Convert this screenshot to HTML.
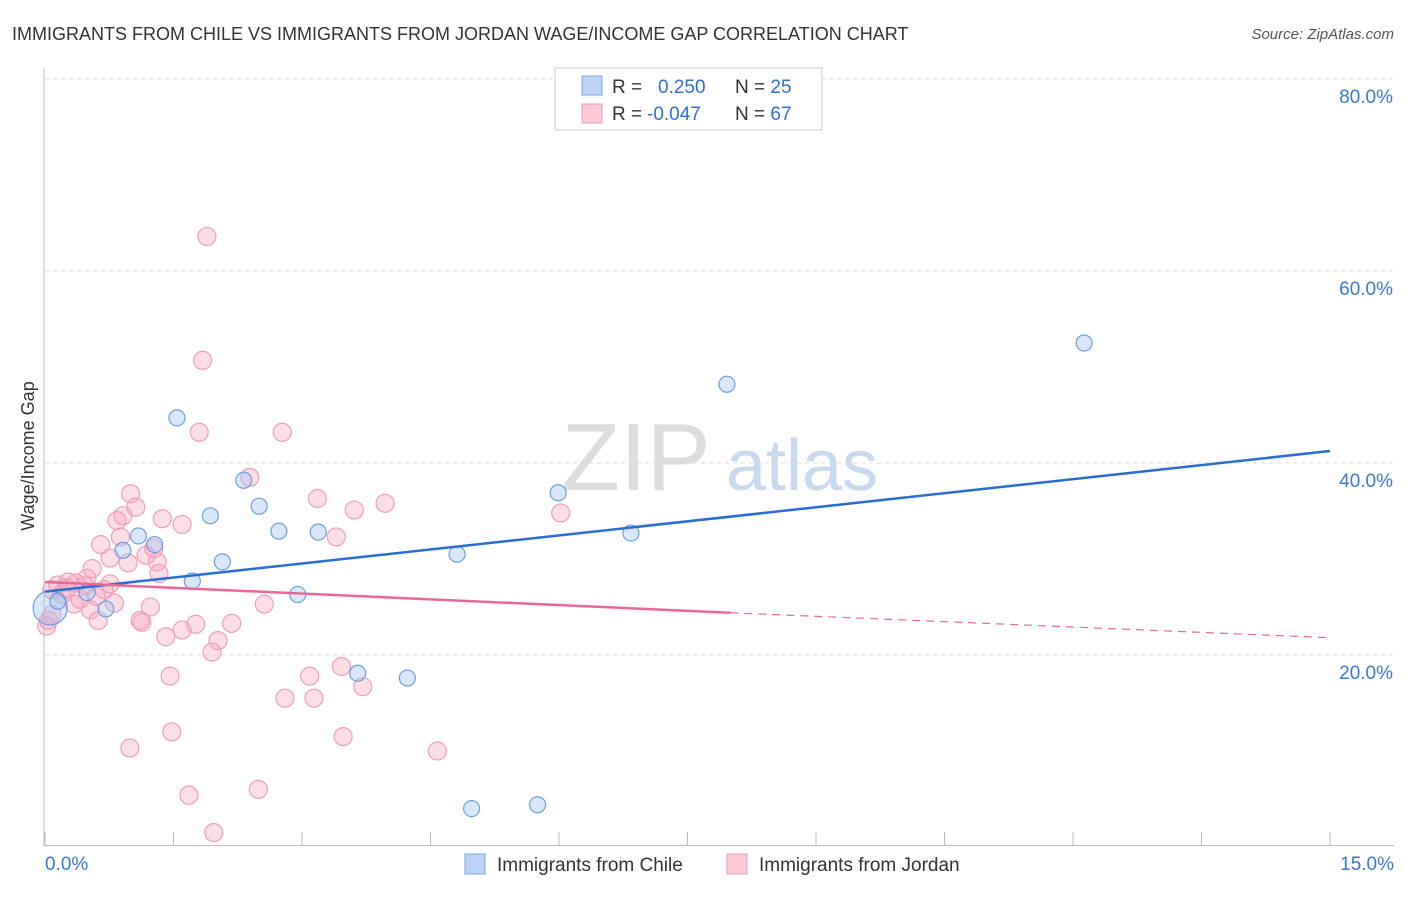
<!DOCTYPE html>
<html><head><meta charset="utf-8"><style>
body{margin:0;background:#fff;font-family:"Liberation Sans",sans-serif}
svg text{font-family:"Liberation Sans",sans-serif}
</style></head><body>
<svg id="chart" width="1406" height="892">
<text x="12" y="40" font-size="18" fill="#333">IMMIGRANTS FROM CHILE VS IMMIGRANTS FROM JORDAN WAGE/INCOME GAP CORRELATION CHART</text>
<text x="1394" y="39" font-size="15" fill="#555" font-style="italic" text-anchor="end">Source: ZipAtlas.com</text>
<g>
<text x="636" y="490" font-size="96" fill="#ddd" text-anchor="middle" font-family="Liberation Serif">ZIP</text>
<text x="802" y="490" font-size="72" fill="#c9d9ee" text-anchor="middle">atlas</text>
</g>
<g id="grid"></g>
<g id="axes"></g>
<g id="marks"></g>
<text x="34" y="456" font-size="18" fill="#333" text-anchor="middle" transform="rotate(-90 34 456)">Wage/Income Gap</text>
<g>
<rect x="555" y="68" width="267" height="62" fill="#fff" stroke="#ccc"/>
<rect x="582" y="76" width="20" height="19" fill="#bcd3f5" stroke="#7da6e0"/>
<rect x="582" y="104" width="20" height="19" fill="#fbc8d6" stroke="#ee9fb7"/>
<text x="612" y="93" font-size="19" fill="#333">R = <tspan fill="#2f6fd6" x="658">0.250</tspan><tspan fill="#333" x="735">N = </tspan><tspan fill="#2f6fd6">25</tspan></text>
<text x="612" y="120" font-size="19" fill="#333">R = <tspan fill="#2f6fd6" x="647">-0.047</tspan><tspan fill="#333" x="735">N = </tspan><tspan fill="#2f6fd6">67</tspan></text>
</g>
<g>
<rect x="465" y="854" width="20" height="20" fill="#bcd3f5" stroke="#7da6e0"/>
<text x="497" y="871" font-size="19" fill="#333">Immigrants from Chile</text>
<rect x="727" y="854" width="20" height="20" fill="#fbc8d6" stroke="#ee9fb7"/>
<text x="759" y="871" font-size="19" fill="#333">Immigrants from Jordan</text>
</g>
</svg>
<script>
const yTicks=[20,40,60,80];
const yTickLabels=["20.0%","40.0%","60.0%","80.0%"];
const xTicks=[0,1.5,3,4.5,6,7.5,9,10.5,12,13.5,15];
const xEndLabels=["0.0%","15.0%"];
const chileX=[1.54,7.96,12.13,2.32,2.50,1.93,5.99,2.73,3.19,1.09,0.91,1.28,2.07,4.81,6.84,1.72,0.49,2.95,0.71,3.65,4.23,4.98,5.75,0.06,0.15];
const chileY=[44.7,48.2,52.5,38.2,35.5,34.5,36.9,32.9,32.8,32.4,30.9,31.5,29.7,30.5,32.7,27.7,26.5,26.3,24.8,18.1,17.6,4.0,4.4,24.9,25.6];
const jordanX=[1.89,1.84,1.80,2.77,2.39,1.00,3.18,3.97,3.61,6.02,0.91,0.84,1.37,1.60,1.06,0.88,0.65,3.40,1.18,0.76,1.31,1.33,0.55,0.49,0.27,0.15,0.08,0.36,0.20,0.41,0.69,0.81,0.34,0.53,0.62,1.23,1.13,1.60,1.76,1.41,2.02,2.18,2.56,1.95,0.08,0.02,1.46,3.09,3.46,3.71,2.80,3.14,0.99,1.48,3.48,4.58,1.68,2.49,1.97,1.11,0.25,0.47,0.60,0.97,1.27,0.76,0.04];
const jordanY=[63.6,50.7,43.2,43.2,38.5,36.8,36.3,35.8,35.1,34.8,34.5,34.0,34.2,33.6,35.4,32.3,31.5,32.3,30.4,30.1,29.7,28.5,29.0,28.0,27.6,27.3,26.8,27.5,26.3,25.8,26.8,25.4,25.3,24.7,23.6,25.0,23.4,22.6,23.2,21.9,21.5,23.3,25.3,20.3,24.2,23.0,17.8,17.8,18.8,16.7,15.5,15.5,10.3,12.0,11.5,10.0,5.4,6.0,1.5,23.6,27.0,27.2,26.1,29.6,31.1,27.4,23.6];
const chileTrendX=[0,15];
const chileTrendY=[26.6,41.25];
const jordanTrendX=[0,8,15];
const jordanTrendY=[27.6,24.4,21.8];
const NS="http://www.w3.org/2000/svg";
const xs=v=>45+v/15*1285;
const ys=v=>847-v*9.6;
function mk(tag,attrs,parent){const e=document.createElementNS(NS,tag);for(const k in attrs)e.setAttribute(k,attrs[k]);document.getElementById(parent).appendChild(e);return e;}
yTicks.forEach((t,i)=>{
  const l=mk('line',{x1:45,x2:1394,y1:ys(t),y2:ys(t),stroke:'#ddd','stroke-dasharray':'4,4'},'grid');
  
  
  const tx=mk('text',{x:1393,y:ys(t)+24,'font-size':19,fill:'#3a78d8','text-anchor':'end'},'grid');
  tx.textContent=yTickLabels[i];
  
  
});
const ax=mk('line',{x1:44,x2:44,y1:68,y2:846,stroke:'#bbb'},'axes');


const bx=mk('line',{x1:44,x2:1394,y1:845.5,y2:845.5,stroke:'#bbb'},'axes');


xTicks.forEach(t=>{
  const l=mk('line',{x1:xs(t),x2:xs(t),y1:832,y2:846,stroke:'#bbb'},'axes');
  
  
});
[[0,'start',45],[15,'end',1394]].forEach((d,i)=>{
  const tx=mk('text',{x:d[2],y:870,'font-size':19,fill:'#3a78d8','text-anchor':d[1]},'axes');
  tx.textContent=xEndLabels[i];
  
  
});
jordanX.forEach((x,i)=>{
  const c=mk('circle',{cx:xs(x),cy:ys(jordanY[i]),r:9,fill:'rgba(246,160,186,0.35)',stroke:'#ee9fb7','stroke-width':1.2},'marks');
  
  
});
chileX.forEach((x,i)=>{
  const c=mk('circle',{cx:xs(x),cy:ys(chileY[i]),r:i===23?17:8,fill:'rgba(160,195,240,0.4)',stroke:'#6f9ee0','stroke-width':1.2},'marks');
  
  
});
const cl=mk('line',{x1:xs(chileTrendX[0]),y1:ys(chileTrendY[0]),x2:xs(chileTrendX[1]),y2:ys(chileTrendY[1]),stroke:'#2a6dd4','stroke-width':2.5},'marks');


const jl=mk('line',{x1:xs(jordanTrendX[0]),y1:ys(jordanTrendY[0]),x2:xs(jordanTrendX[1]),y2:ys(jordanTrendY[1]),stroke:'#e8689a','stroke-width':2.5},'marks');


const jd=mk('line',{x1:xs(jordanTrendX[1]),y1:ys(jordanTrendY[1]),x2:xs(jordanTrendX[2]),y2:ys(jordanTrendY[2]),stroke:'#e8689a','stroke-width':1.2,'stroke-dasharray':'8,6'},'marks');


</script>
</body></html>
